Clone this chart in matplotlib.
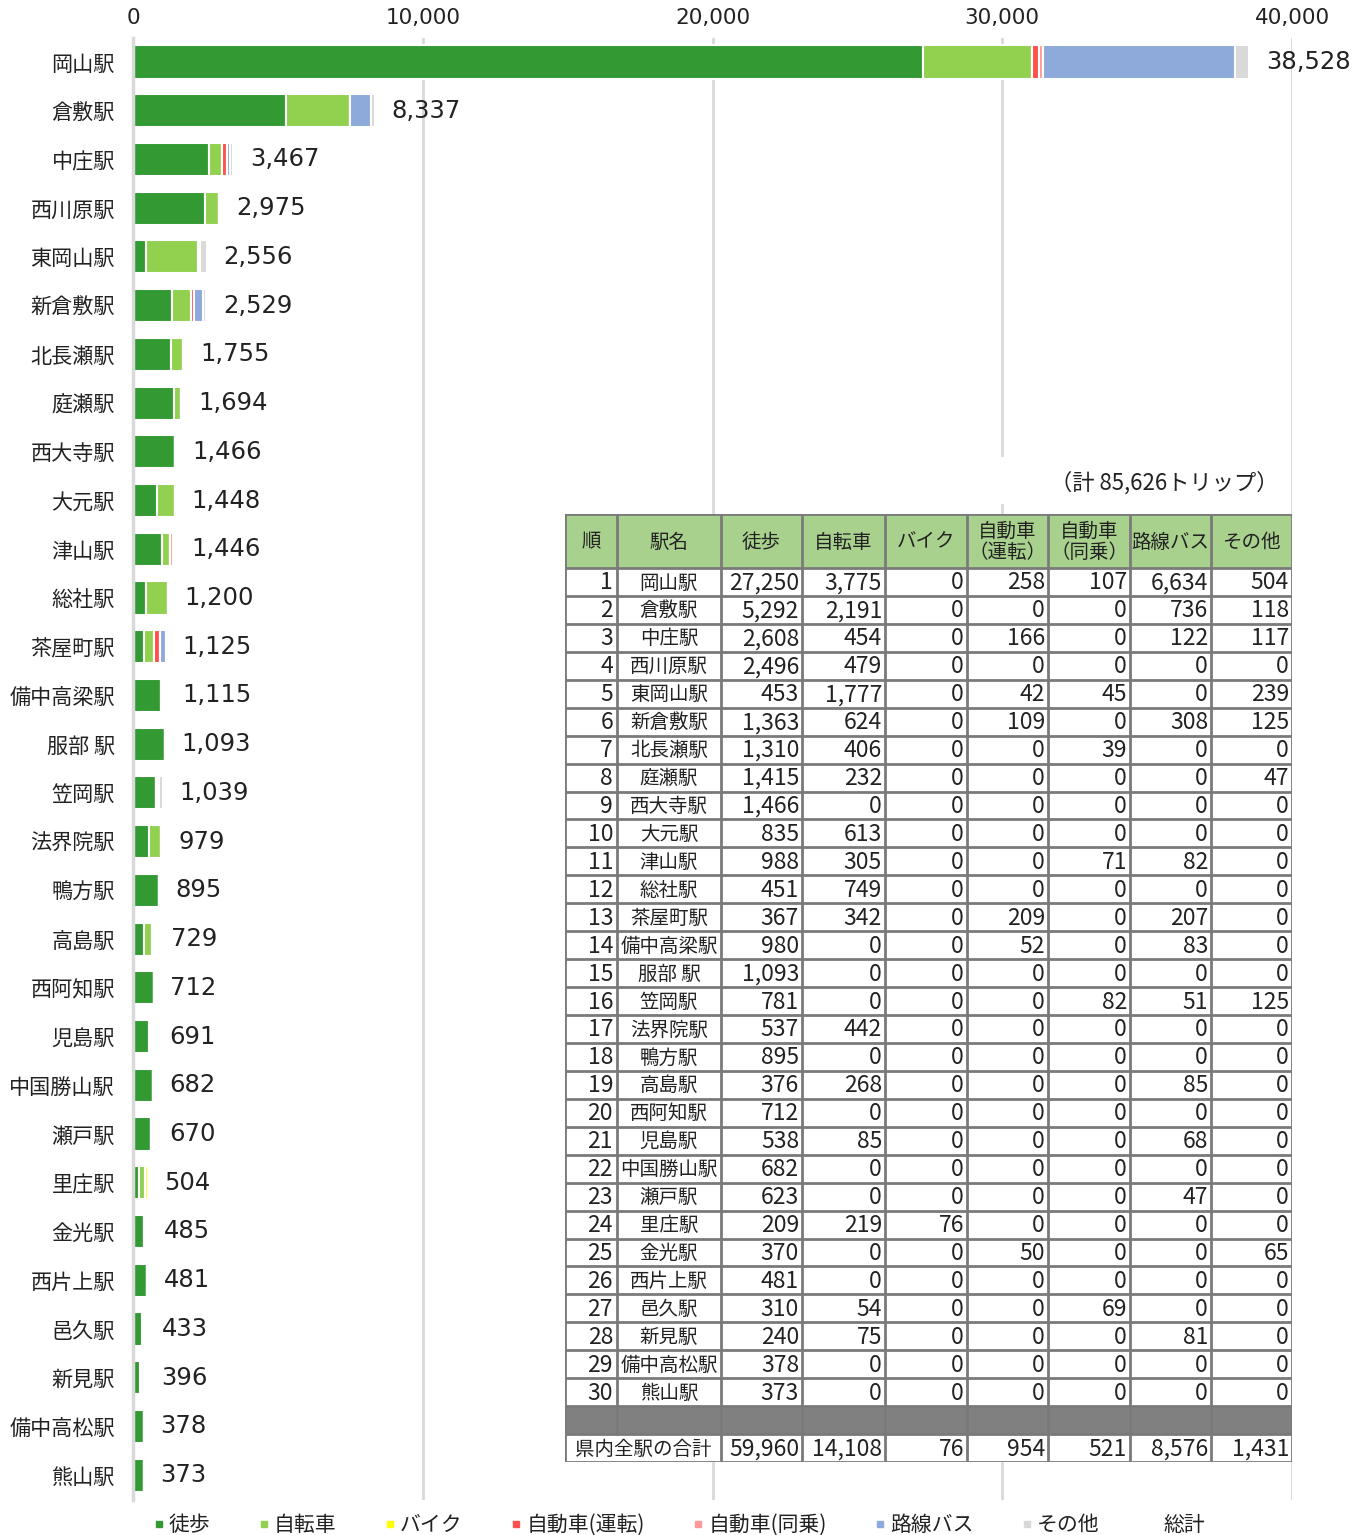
import numpy as np
import matplotlib
matplotlib.use("Agg")
import matplotlib.pyplot as plt
from matplotlib.lines import Line2D
from matplotlib.patches import Rectangle

plt.rcParams['font.family'] = ['Noto Sans CJK JP', 'DejaVu Sans']

# ---------------- data ----------------
stations = ["岡山駅", "倉敷駅", "中庄駅", "西川原駅", "東岡山駅", "新倉敷駅", "北長瀬駅", "庭瀬駅",
            "西大寺駅", "大元駅", "津山駅", "総社駅", "茶屋町駅", "備中高梁駅", "服部 駅", "笠岡駅",
            "法界院駅", "鴨方駅", "高島駅", "西阿知駅", "児島駅", "中国勝山駅", "瀬戸駅", "里庄駅",
            "金光駅", "西片上駅", "邑久駅", "新見駅", "備中高松駅", "熊山駅"]
walk = [27250, 5292, 2608, 2496, 453, 1363, 1310, 1415, 1466, 835, 988, 451, 367, 980, 1093,
        781, 537, 895, 376, 712, 538, 682, 623, 209, 370, 481, 310, 240, 378, 373]
bicycle = [3775, 2191, 454, 479, 1777, 624, 406, 232, 0, 613, 305, 749, 342, 0, 0,
           0, 442, 0, 268, 0, 85, 0, 0, 219, 0, 0, 54, 75, 0, 0]
motorbike = [0] * 23 + [76] + [0] * 6
car_drive = [258, 0, 166, 0, 42, 109, 0, 0, 0, 0, 0, 0, 209, 52, 0,
             0, 0, 0, 0, 0, 0, 0, 0, 0, 50, 0, 0, 0, 0, 0]
car_ride = [107, 0, 0, 0, 45, 0, 39, 0, 0, 0, 71, 0, 0, 0, 0,
            82, 0, 0, 0, 0, 0, 0, 0, 0, 0, 0, 69, 0, 0, 0]
bus = [6634, 736, 122, 0, 0, 308, 0, 0, 0, 0, 82, 0, 207, 83, 0,
       51, 0, 0, 85, 0, 68, 0, 47, 0, 0, 0, 0, 81, 0, 0]
other = [504, 118, 117, 0, 239, 125, 0, 47, 0, 0, 0, 0, 0, 0, 0,
         125, 0, 0, 0, 0, 0, 0, 0, 0, 65, 0, 0, 0, 0, 0]
series_names = ["徒歩", "自転車", "バイク", "自動車(運転)", "自動車(同乗)", "路線バス", "その他"]
table_headers = ["順", "駅名", "徒歩", "自転車", "バイク", "自動車\n（運転）", "自動車\n（同乗）", "路線バス", "その他"]
pref_total_label = "県内全駅の合計"
pref_totals = [59960, 14108, 76, 954, 521, 8576, 1431]
grand_total_note = "（計 85,626トリップ）"
xticks = [0, 10000, 20000, 30000, 40000]

colors = ["#339933", "#92d050", "#ffff00", "#ff5050", "#ff9999", "#8eaadb", "#d9d9d9"]

series = [walk, bicycle, motorbike, car_drive, car_ride, bus, other]
arr = np.array(series, dtype=float)
totals = arr.sum(axis=0)
n = len(stations)

# ---------------- figure ----------------
W, H = 1369, 1535
fig = plt.figure(figsize=(W / 100, H / 100), dpi=100)


def fx(px):
    return px / W


def fy(py):
    return 1 - py / H


ax_top, ax_bot = 37.6, 1499.5
ax = fig.add_axes([fx(133), fy(ax_bot), fx(1292) - fx(133), (ax_bot - ax_top) / H])

y = np.arange(n)
left = np.zeros(n)
for vals, c, name in zip(arr, colors, series_names):
    ax.barh(y, vals, left=left, height=0.68, color=c, edgecolor="white",
            linewidth=1.5, label=name, zorder=2)
    left += vals

for i, t in enumerate(totals):
    ax.annotate(f"{int(t):,}", xy=(t, i), xytext=(12, 0), textcoords="offset points",
                va="center", ha="left", fontsize=17.5, family="DejaVu Sans",
                color="#222222", annotation_clip=False)

ax.set_xlim(0, 40000)
ax.set_ylim(n - 0.5, -0.5)
ax.set_yticks(y)
ax.set_yticklabels(stations, fontsize=15.2, color="#222222")
ax.set_xticks(xticks)
ax.set_xticklabels([f"{v:,}" for v in xticks], fontsize=15.5, family="DejaVu Sans", color="#222222")
ax.xaxis.tick_top()
ax.tick_params(axis="x", length=0, pad=7)
ax.tick_params(axis="y", length=0, pad=13)
for s in ["top", "right", "bottom"]:
    ax.spines[s].set_visible(False)
ax.spines["left"].set_color("#d9d9d9")
ax.spines["left"].set_linewidth(2.5)
ax.spines["left"].set_zorder(3)
ax.grid(axis="x", color="#d9d9d9", linewidth=2, zorder=0)
ax.set_axisbelow(True)

# legend
handles = [Line2D([], [], marker="s", color=c, linestyle="none", markersize=5) for c in colors]
handles.append(Line2D([], [], linestyle="none"))
labels = series_names + ["総計"]
fig.legend(handles, labels, loc="center left", bbox_to_anchor=(fx(154), fy(1525)),
           bbox_transform=fig.transFigure, ncol=8, frameon=False, fontsize=15,
           handlelength=0.45, handletextpad=0.25, columnspacing=2.35,
           borderpad=0, borderaxespad=0, labelcolor="#222222")

# note with white background box
fig.patches.append(Rectangle((fx(990), fy(504)), fx(1285) - fx(990), (504 - 457) / H,
                             transform=fig.transFigure, facecolor="white",
                             edgecolor="none", zorder=1))
fig.text(fx(1279), fy(483), grand_total_note, ha="right", va="center", fontsize=16,
         color="#222222", zorder=2)

# ---------------- table ----------------
t_left, t_right, t_top, t_bot = 565, 1292, 514, 1462
tax = fig.add_axes([fx(t_left), fy(t_bot), fx(t_right) - fx(t_left), (t_bot - t_top) / H], zorder=5)
tax.set_xlim(t_left, t_right)
tax.set_ylim(t_bot, t_top)
tax.set_xticks([])
tax.set_yticks([])
for s in tax.spines.values():
    s.set_visible(False)
tax.set_facecolor("white")

col_edges = [565, 617, 721, 802, 885, 967, 1048, 1130, 1211, 1292]
header_bot = 568
row_h = (t_bot - header_bot) / 32
row_edges = [header_bot + k * row_h for k in range(33)]
line_c = "#7a7a7a"
lw = 2.0

tax.add_patch(Rectangle((t_left, t_top), t_right - t_left, header_bot - t_top,
                        facecolor="#a9d18e", edgecolor="none"))
tax.add_patch(Rectangle((t_left, row_edges[30]), t_right - t_left, row_h,
                        facecolor="#808080", edgecolor="none"))

# horizontal lines
for yy in [t_top, header_bot] + row_edges[1:]:
    tax.plot([t_left, t_right], [yy, yy], color=line_c, lw=lw, solid_capstyle="projecting")
# vertical lines
for j, xx in enumerate(col_edges):
    if j == 1:
        tax.plot([xx, xx], [t_top, row_edges[31]], color=line_c, lw=lw)
    else:
        tax.plot([xx, xx], [t_top, t_bot], color=line_c, lw=lw)

# header text
for j, h in enumerate(table_headers):
    cx = (col_edges[j] + col_edges[j + 1]) / 2
    tax.text(cx, (t_top + header_bot) / 2 + 1, h, ha="center", va="center", fontsize=14,
             color="#222222", linespacing=1.05)

# rows
for i in range(n):
    cy = (row_edges[i] + row_edges[i + 1]) / 2 + 1
    tax.text(col_edges[1] - 4, cy, str(i + 1), ha="right", va="center", fontsize=16.5, color="#222222")
    tax.text((col_edges[1] + col_edges[2]) / 2, cy, stations[i], ha="center", va="center",
             fontsize=14, color="#222222")
    for k in range(7):
        tax.text(col_edges[k + 3] - 3, cy, f"{int(arr[k, i]):,}", ha="right", va="center",
                 fontsize=16.5, color="#222222")

cy = (row_edges[31] + row_edges[32]) / 2 + 1
tax.text((col_edges[0] + col_edges[2]) / 2, cy, pref_total_label, ha="center", va="center",
         fontsize=14, color="#222222")
for k in range(7):
    tax.text(col_edges[k + 3] - 3, cy, f"{pref_totals[k]:,}", ha="right", va="center",
             fontsize=16.5, color="#222222")

fig.savefig("out.png", dpi=100)
